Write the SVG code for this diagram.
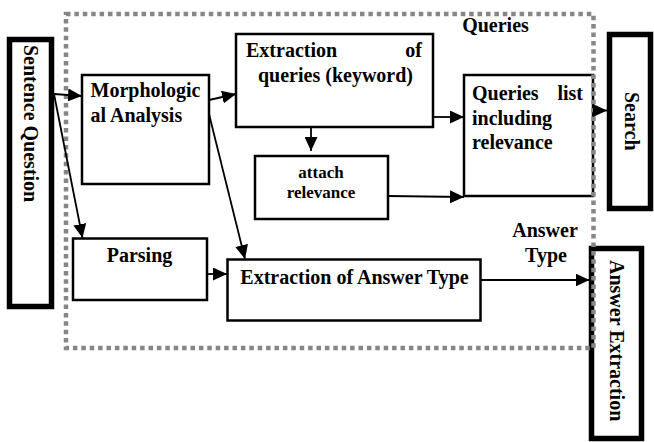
<svg xmlns="http://www.w3.org/2000/svg" width="654" height="442" viewBox="0 0 654 442">
<defs>
<style>
text{font-family:"Liberation Serif","Times New Roman",serif;font-weight:bold;font-size:20px;fill:#000}
.box{fill:#fff;stroke:#000;stroke-width:2.5}
.thick{fill:#fff;stroke:#000;stroke-width:5.5}
.small{font-size:17px}
.mid{text-anchor:middle}
.end{text-anchor:end}
.conn{fill:none;stroke:#000;stroke-width:1.8}
.region{fill:none;stroke:#868686;stroke-width:4.5;stroke-dasharray:4.5 3.9}
</style>
<marker id="arrow" markerUnits="userSpaceOnUse" markerWidth="15" markerHeight="13" refX="14" refY="6.5" orient="auto">
<path d="M0,0 L14,6.5 L0,13 z" fill="#000"/>
</marker>
</defs>
<rect width="654" height="442" fill="#fff"/>

<g id="sentence-question">
<rect class="thick" x="9.5" y="39.5" width="42" height="267"/>
<text transform="translate(24,45) rotate(90)">Sentence Question</text>
</g>

<g id="morphological-analysis">
<rect class="box" x="82" y="75" width="127" height="109"/>
<text x="90.5" y="97">Morphologic</text>
<text x="90.5" y="122">al Analysis</text>
</g>

<g id="extraction-queries">
<rect class="box" x="236" y="34" width="197" height="93"/>
<text x="246" y="57">Extraction</text>
<text class="end" x="422" y="57">of</text>
<text class="mid" x="335.5" y="82">queries (keyword)</text>
</g>

<g id="attach-relevance">
<rect class="box" x="255" y="156" width="133" height="63"/>
<text class="small mid" x="321" y="177.5">attach</text>
<text class="small mid" x="321" y="198">relevance</text>
</g>

<g id="queries-list">
<rect class="box" x="464" y="75" width="129" height="121"/>
<text x="472" y="100">Queries</text>
<text class="end" x="583" y="100">list</text>
<text x="472" y="124.5">including</text>
<text x="472" y="149">relevance</text>
</g>

<g id="search">
<rect class="thick" x="609.5" y="34.5" width="41" height="174"/>
<text transform="translate(625,92) rotate(90)">Search</text>
</g>

<g id="parsing">
<rect class="box" x="73" y="238.5" width="134" height="61.5"/>
<text class="mid" x="139.5" y="261.5">Parsing</text>
</g>

<g id="extraction-answer-type">
<rect class="box" x="227.5" y="259.5" width="253" height="61"/>
<text class="mid" x="354.5" y="283.5">Extraction of Answer Type</text>
</g>

<g id="answer-extraction">
<rect class="thick" x="591.5" y="248.5" width="50" height="190"/>
<text transform="translate(609.5,260) rotate(90)">Answer Extraction</text>
</g>

<g id="queries-region">
<rect class="region" x="66" y="14" width="527.5" height="334"/>
</g>

<g id="labels">
<text class="mid" x="495.5" y="31.5">Queries</text>
<text class="mid" x="545" y="236.5">Answer</text>
<text class="mid" x="546" y="261.5">Type</text>
</g>

<g id="connectors">
<line class="conn" x1="54" y1="94" x2="82" y2="96" marker-end="url(#arrow)"/>
<line class="conn" x1="54" y1="94" x2="82.5" y2="238" marker-end="url(#arrow)"/>
<line class="conn" x1="209" y1="100" x2="236" y2="94" marker-end="url(#arrow)"/>
<line class="conn" x1="209" y1="114" x2="245" y2="259" marker-end="url(#arrow)"/>
<line class="conn" x1="311" y1="127" x2="311" y2="151" marker-end="url(#arrow)"/>
<line class="conn" x1="433" y1="117" x2="464" y2="117" marker-end="url(#arrow)"/>
<line class="conn" x1="388" y1="196" x2="464" y2="197" marker-end="url(#arrow)"/>
<line class="conn" x1="593" y1="110.5" x2="607" y2="110.5" marker-end="url(#arrow)"/>
<line class="conn" x1="207" y1="274" x2="227" y2="274" marker-end="url(#arrow)"/>
<line class="conn" x1="480.5" y1="280" x2="589.5" y2="280" marker-end="url(#arrow)"/>
</g>
</svg>
